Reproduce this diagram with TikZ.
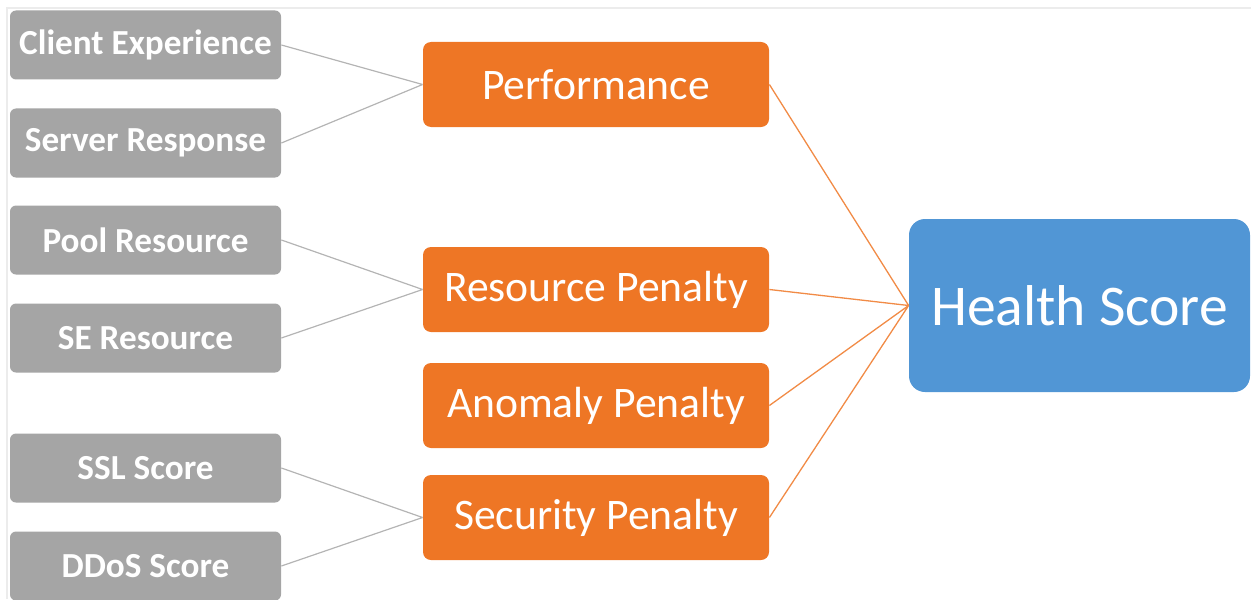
\documentclass[tikz,border=0pt]{standalone}
\usepackage{fontspec}
\setmainfont{Carlito}
\usepackage{tikz}

\definecolor{factorgray}{HTML}{A5A5A5}
\definecolor{penaltyorange}{HTML}{EE7625}
\definecolor{scoreblue}{HTML}{5196D5}
\definecolor{framegray}{HTML}{ECECEC}
\definecolor{feedgray}{HTML}{B4B4B4}

\tikzset{
  factor/.style={fill=factorgray, text=white, rounded corners=3pt,
    minimum width=135.5pt, minimum height=34.5pt, inner sep=0pt,
    font=\fontsize{17.6}{21}\selectfont\bfseries},
  penalty/.style={fill=penaltyorange, text=white, rounded corners=4pt,
    minimum width=173pt, minimum height=42.5pt, inner sep=0pt,
    font=\fontsize{21.8}{26}\selectfont},
  total/.style={fill=scoreblue, text=white, rounded corners=8pt,
    minimum width=170.5pt, minimum height=86.5pt, inner sep=0pt,
    font=\fontsize{28.8}{34}\selectfont},
  feed/.style={draw=feedgray, line width=0.6pt},
  merge/.style={draw=penaltyorange!85, line width=0.65pt},
}

\begin{document}
\begin{tikzpicture}[x=0.5pt, y=-0.5pt]
      \useasboundingbox (0, 0) rectangle (1251, 599);
      % faint frame of the screenshot
      \draw[framegray, line width=1pt] (7, 599) -- (7, 8) -- (1251, 8);
      % inputs
      \node[factor] (client) at (145.5, 45)  {Client Experience};
      \node[factor] (server) at (145.5, 143) {Server Response};
      \node[factor] (pool)   at (145.5, 240) {Pool Resource};
      \node[factor] (se)     at (145.5, 338) {SE Resource};
      \node[factor] (ssl)    at (145.5, 468) {SSL Score};
      \node[factor] (ddos)   at (145.5, 566) {DDoS Score};
      % penalties
      \node[penalty] (perf)     at (596, 84.5)  {Performance};
      \node[penalty] (resource) at (596, 289.5) {Resource Penalty};
      \node[penalty] (anomaly)  at (596, 405.5) {Anomaly Penalty};
      \node[penalty] (security) at (596, 517.5) {Security Penalty};
      % result
      \node[total] (health) at (1079.5, 305.5) {Health Score};
      \draw[feed]
          (client.east) -- (perf.west)
          (server.east) -- (perf.west)
          (pool.east)   -- (resource.west)
          (se.east)     -- (resource.west)
          (ssl.east)    -- (security.west)
          (ddos.east)   -- (security.west);
      \draw[merge]
          (perf.east)     -- (health.west)
          (resource.east) -- (health.west)
          (anomaly.east)  -- (health.west)
          (security.east) -- (health.west);
    \end{tikzpicture}
\end{document}
